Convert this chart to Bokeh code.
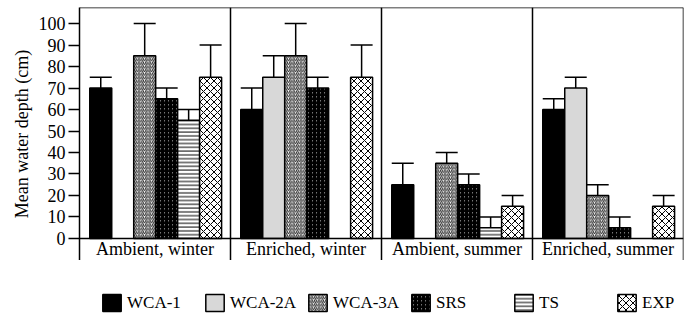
import numpy as np
from bokeh.plotting import figure
from bokeh.layouts import column
from bokeh.models import (ColumnDataSource, Range1d, Span, Whisker, TeeHead,
                          Legend, LegendItem, FixedTicker)
from bokeh.core.properties import value
from bokeh.embed import file_html
from bokeh.resources import INLINE

# ---------------- data ----------------
groups = ["Ambient, winter", "Enriched, winter", "Ambient, summer", "Enriched, summer"]
sites = ["WCA-1", "WCA-2A", "WCA-3A", "SRS", "TS", "EXP"]
nan = float("nan")
wca1 = [70, 60, 25, 60]
wca2a = [nan, 75, nan, 70]
wca3a = [85, 85, 35, 20]
srs = [65, 70, 25, 5]
ts = [55, nan, 5, nan]
exp = [75, 75, 15, 15]
wca1_err = [5, 10, 10, 5]
wca2a_err = [nan, 10, nan, 5]
wca3a_err = [15, 15, 5, 5]
srs_err = [5, 5, 5, 5]
ts_err = [5, nan, 5, nan]
exp_err = [15, 15, 5, 5]
y_ticks = list(range(0, 101, 10))

means = [wca1, wca2a, wca3a, srs, ts, exp]
errs = [wca1_err, wca2a_err, wca3a_err, srs_err, ts_err, exp_err]

styles = [
    dict(fill_color="black"),
    dict(fill_color="#d8d8d8"),
    dict(fill_color="white", hatch_pattern="/", hatch_scale=3.6, hatch_weight=1.0, hatch_color="#222222"),
    dict(fill_color="#808080", hatch_pattern="/", hatch_scale=4.0, hatch_weight=1.8, hatch_color="black"),
    dict(fill_color="white", hatch_pattern="-", hatch_scale=3.8, hatch_weight=1.0, hatch_color="black"),
    dict(fill_color="white", hatch_pattern="x", hatch_scale=7.0, hatch_weight=1.0, hatch_color="black"),
]

FONT = "Liberation Serif"
pad = 0.068
slot = 0.1455
ymin, ymax = -10.28, 107.5

p = figure(width=690, height=260, x_range=Range1d(0, 4), y_range=Range1d(ymin, ymax),
           output_backend="svg", toolbar_location=None, x_axis_location=None,
           min_border_left=79, min_border_right=7, min_border_top=7, min_border_bottom=0)
p.outline_line_color = None
p.grid.visible = False
p.background_fill_color = "white"
p.border_fill_color = "white"

yax = p.yaxis[0]
yax.ticker = FixedTicker(ticks=y_ticks)
yax.minor_tick_line_color = None
yax.major_tick_in = 0
yax.major_tick_out = 11
yax.major_tick_line_width = 1.5
yax.axis_line_width = 1.5
yax.major_label_standoff = 3
yax.major_label_text_font = FONT
yax.major_label_text_font_size = "18px"
yax.major_label_text_color = "black"
yax.axis_label = "Mean water depth (cm)"
yax.axis_label_text_font = FONT
yax.axis_label_text_font_size = "18px"
yax.axis_label_text_font_style = "normal"
yax.axis_label_text_color = "black"
yax.axis_label_standoff = 4

# legend figure
lg = figure(width=690, height=56, x_range=Range1d(0, 1), y_range=Range1d(0, 1),
            output_backend="svg", toolbar_location=None, x_axis_location=None,
            y_axis_location=None, min_border=0)
lg.outline_line_color = None
lg.grid.visible = False
lg.background_fill_color = "white"
lg.border_fill_color = "white"

items = []
for i, (name, m, e, st) in enumerate(zip(sites, means, errs, styles)):
    xs, tops, ups = [], [], []
    for g in range(len(groups)):
        if not np.isnan(m[g]):
            xs.append(g + pad + (i + 0.5) * slot)
            tops.append(m[g])
            ups.append(m[g] + e[g])
    src = ColumnDataSource(dict(x=xs, top=tops, upper=ups))
    p.vbar(x="x", top="top", width=slot, source=src, line_color="black", line_width=1.5, **st)
    w = Whisker(base="x", lower="top", upper="upper", source=src, dimension="height",
                line_width=1.5, line_color="black",
                upper_head=TeeHead(size=22, line_width=1.5, line_color="black"), lower_head=None)
    p.add_layout(w)
    # hidden proxy so the legend can draw its swatch
    psrc = ColumnDataSource(dict(x=[0.5], top=[0.5]))
    dummy = lg.vbar(x="x", top="top", width=0.1, source=psrc, visible=False,
                    line_color="black", line_width=1.5, **st)
    items.append(LegendItem(label=name, renderers=[dummy]))

# frame lines
for xb in range(1, len(groups) + 1):
    p.add_layout(Span(location=xb, dimension="height", line_color="black", line_width=1.5))
p.add_layout(Span(location=ymax, dimension="width", line_color="black", line_width=1.5))
p.add_layout(Span(location=0, dimension="width", line_color="black", line_width=1.5))

# category labels
p.text(x=[g + 0.5 for g in range(len(groups))], y=[ymin / 2] * len(groups), text=groups,
       text_align="center", text_baseline="middle", text_font=value(FONT),
       text_font_size="18px", text_color="black")

legend = Legend(items=items, orientation="horizontal", location=(21, 3),
                glyph_width=23, glyph_height=21, label_standoff=4, label_width=71,
                spacing=5, padding=0, margin=0, border_line_color=None,
                background_fill_alpha=0, label_text_font=FONT, label_text_font_size="17px",
                label_text_color="black", click_policy="none")
lg.add_layout(legend, "center")

layout = column(p, lg, spacing=0)
open("out.html", "w").write(file_html(layout, INLINE))
